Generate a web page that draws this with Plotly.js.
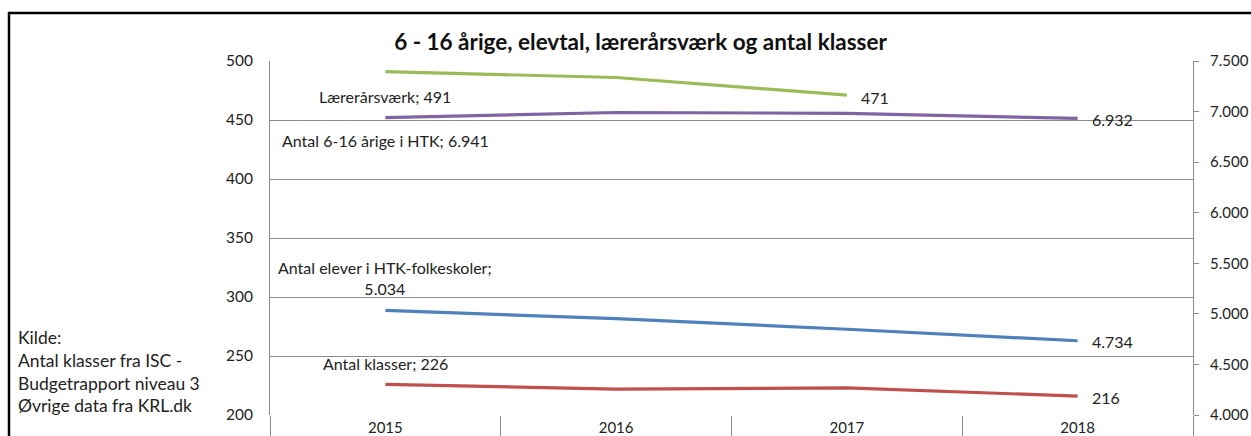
<!DOCTYPE html>
<html>
<head>
<meta charset="utf-8">
<script src="https://cdn.plot.ly/plotly-3.0.1.min.js"></script>
<style>
  html, body { margin: 0; padding: 0; background: #fff; }
  #chart { width: 1251px; height: 436px; }
</style>
</head>
<body>
<div id="chart"></div>
<script>
const years = ['2015', '2016', '2017', '2018'];
const laerer = [491, 486, 471];                 // left axis
const boern = [6941, 6991, 6983, 6932];         // right axis
const elever = [5034, 4952, 4848, 4734];        // right axis
const klasser = [226, 222, 223, 216];           // left axis
const leftTicks = [200, 250, 300, 350, 400, 450, 500];
const rightTicks = [4000, 4500, 5000, 5500, 6000, 6500, 7000, 7500];
const rightTickText = ['4.000', '4.500', '5.000', '5.500', '6.000', '6.500', '7.000', '7.500'];

const FONT = 'Lato, "Noto Sans", sans-serif';
const GRID = '#8c8c8c';

function fmt(v) { return v >= 1000 ? String(v).replace(/(\d)(\d{3})$/, '$1.$2') : String(v); }

const traces = [
  {x: years.slice(0, laerer.length), y: laerer, yaxis: 'y', mode: 'lines', line: {color: '#9BBB59', width: 3.2}, name: 'Lærerårsværk'},
  {x: years, y: boern, yaxis: 'y2', mode: 'lines', line: {color: '#8064A2', width: 3.2}, name: 'Antal 6-16 årige i HTK'},
  {x: years, y: elever, yaxis: 'y2', mode: 'lines', line: {color: '#4F81BD', width: 3.2}, name: 'Antal elever i HTK-folkeskoler'},
  {x: years, y: klasser, yaxis: 'y', mode: 'lines', line: {color: '#C0504D', width: 3.2}, name: 'Antal klasser'}
];

const first = 0, last = years.length - 1, lastL = laerer.length - 1;
const lf = {family: FONT, size: 16, color: '#222'};
const annotations = [
  {x: first, y: laerer[first], yref: 'y', text: 'Lærerårsværk; ' + fmt(laerer[first]), xanchor: 'center', yanchor: 'middle', yshift: -25},
  {x: lastL, y: laerer[lastL], yref: 'y', text: fmt(laerer[lastL]), xanchor: 'left', yanchor: 'middle', xshift: 12, yshift: -2},
  {x: first, y: boern[first], yref: 'y2', text: 'Antal 6-16 årige i HTK; ' + fmt(boern[first]), xanchor: 'center', yanchor: 'middle', yshift: -23},
  {x: last, y: boern[last], yref: 'y2', text: fmt(boern[last]), xanchor: 'left', yanchor: 'middle', xshift: 12, yshift: -1},
  {x: first, y: elever[first], yref: 'y2', text: 'Antal elever i HTK-folkeskoler;<br>' + fmt(elever[first]), xanchor: 'center', yanchor: 'middle', yshift: 32},
  {x: last, y: elever[last], yref: 'y2', text: fmt(elever[last]), xanchor: 'left', yanchor: 'middle', xshift: 12, yshift: -1},
  {x: first, y: klasser[first], yref: 'y', text: 'Antal klasser; ' + fmt(klasser[first]), xanchor: 'center', yanchor: 'middle', yshift: 21},
  {x: last, y: klasser[last], yref: 'y', text: fmt(klasser[last]), xanchor: 'left', yanchor: 'middle', xshift: 12, yshift: -1}
].map(a => Object.assign({xref: 'x', showarrow: false, font: lf}, a));

annotations.push({
  xref: 'paper', yref: 'paper', x: (16 - 270) / 923, y: (415 - 325) / 354, xanchor: 'left', yanchor: 'top', align: 'left',
  showarrow: false, font: {family: FONT, size: 17.5, color: '#222'},
  text: 'Kilde:<br>Antal klasser fra ISC -<br>Budgetrapport niveau 3<br>Øvrige data fra KRL.dk'
});

const layout = {
  width: 1251, height: 436,
  margin: {l: 270, r: 58, t: 61, b: 21},
  paper_bgcolor: '#fff', plot_bgcolor: '#fff',
  showlegend: false,
  title: {text: '<b>6 - 16 årige, elevtal, lærerårsværk og antal klasser</b>', font: {family: FONT, size: 22.5, color: '#111'},
          xref: 'container', yref: 'container', x: 0.512, y: 1 - 42 / 436, xanchor: 'center', yanchor: 'middle'},
  xaxis: {type: 'category', categoryorder: 'array', categoryarray: years, range: [-0.5, 3.5], fixedrange: true,
          showgrid: false, showline: false, zeroline: false,
          ticks: 'outside', tickson: 'boundaries', ticklen: 25, tickcolor: GRID, tickwidth: 1,
          ticklabelstandoff: 2, tickfont: {family: FONT, size: 15, color: '#222'}},
  yaxis: {range: [200, 500], tickvals: leftTicks, ticktext: leftTicks.map(String), showgrid: true, gridcolor: GRID, gridwidth: 1,
          showline: true, linecolor: GRID, linewidth: 1, zeroline: false, ticks: '', ticklabelstandoff: 13,
          tickfont: {family: FONT, size: 15.5, color: '#222'}},
  yaxis2: {range: [4000, 7500], overlaying: 'y', side: 'right', tickvals: rightTicks, ticktext: rightTickText,
           showgrid: false, showline: true, linecolor: GRID, linewidth: 1, zeroline: false,
           ticks: 'outside', ticklen: 5, tickcolor: GRID, ticklabelstandoff: 8,
           tickfont: {family: FONT, size: 15, color: '#222'}},
  annotations: annotations,
  shapes: [
    {type: 'rect', xref: 'paper', yref: 'paper', x0: (9 - 270) / 923, x1: (1260 - 270) / 923,
     y0: -(440 - 415) / 354, y1: (415 - 13) / 354, line: {color: '#000', width: 2.5}, fillcolor: 'rgba(0,0,0,0)'}
  ]
};

Plotly.newPlot('chart', traces, layout, {staticPlot: true, displayModeBar: false});
</script>
</body>
</html>
